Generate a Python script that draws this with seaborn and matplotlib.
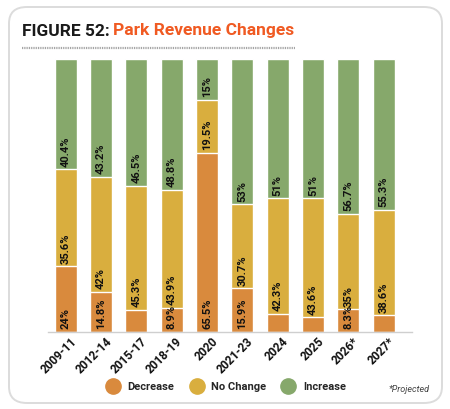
"""Park revenue changes, stacked percent bars"""

import matplotlib
matplotlib.use('Agg')
import matplotlib.pyplot as plt
import matplotlib.transforms as mtransforms
from matplotlib.lines import Line2D
from matplotlib.patches import FancyBboxPatch
import numpy as np
import seaborn as sns

periods = ['2009-11', '2012-14', '2015-17', '2018-19', '2020',
           '2021-23', '2024', '2025', '2026*', '2027*']
decrease = [24, 14.8, 8.2, 8.9, 65.5, 15.9, 6.7, 5.4, 8.3, 6.1]
no_change = [35.6, 42, 45.3, 43.9, 19.5, 30.7, 42.3, 43.6, 35, 38.6]
increase = [40.4, 43.2, 46.5, 48.8, 15, 53, 51, 51, 56.7, 55.3]
series = ['Decrease', 'No Change', 'Increase']
colors = ['#D98A3D', '#D9AE3E', '#86A86B']

W, H = 450, 409
sns.set_style('white')
plt.rcParams['font.family'] = ['Roboto', 'DejaVu Sans']
fig = plt.figure(figsize=(W / 100, H / 100), dpi=100)

# rounded card behind everything
card = FancyBboxPatch((9 / W, 6 / H), 433 / W, 396 / H,
                      boxstyle='round,pad=0,rounding_size=0.04',
                      transform=fig.transFigure, facecolor='white',
                      edgecolor='#DCDCDC', linewidth=1.4, zorder=-1)
fig.patches.append(card)

# title
t1 = fig.text(22 / W, 1 - 31 / H, 'FIGURE 52:', fontsize=12.5,
              fontweight='bold', color='#1A1A1A', va='center')
fig.canvas.draw()
bb = t1.get_window_extent()
fig.text(bb.x1 / W + 0.008, 1 - 31 / H, 'Park Revenue Changes',
         fontsize=12.5, fontweight='bold', color='#F05A22', va='center')
fig.add_artist(Line2D([22 / W, 295 / W], [1 - 48 / H, 1 - 48 / H],
                      transform=fig.transFigure, color='#9A9A9A',
                      linewidth=1.6, linestyle=(0, (0.4, 0.4))))

ax = fig.add_axes([48 / W, 77 / H, 364 / W, 273 / H])
ax.set_zorder(2)
dec = np.array(decrease)
noc = np.array(no_change)
inc = np.array(increase)
total = dec + noc + inc
d_h = dec / total * 100
n_h = noc / total * 100
i_h = inc / total * 100

layers = [d_h + n_h + i_h, d_h + n_h, d_h]
for heights, color in zip(layers, colors[::-1]):
    sns.barplot(x=periods, y=heights, color=color, width=0.62,
                saturation=1, ax=ax, zorder=2)

# segment labels at the base of each segment
bases = [np.zeros(len(periods)), d_h, d_h + n_h]
for values, base in zip([dec, noc, inc], bases):
    for i, (v, b) in enumerate(zip(values, base)):
        if v < 8.25:
            continue
        text = f'{v:g}%'
        ax.text(i, b + 1.0, text, rotation=90, ha='center', va='bottom',
                fontsize=8, fontweight='bold', color='#111111', zorder=3)

ax.set_ylim(0, 100)
ax.set_xlim(-0.5, 9.8)
ax.set_yticks([])
ax.set_xlabel('')
ax.set_ylabel('')
ax.tick_params(axis='x', length=0, pad=2)
shift = mtransforms.ScaledTranslation(3 / 72, 0, fig.dpi_scale_trans)
for lbl in ax.get_xticklabels():
    lbl.set_rotation(45)
    lbl.set_ha('right')
    lbl.set_rotation_mode('anchor')
    lbl.set_fontsize(8.5)
    lbl.set_fontweight('bold')
    lbl.set_color('#111111')
    lbl.set_transform(lbl.get_transform() + shift)
for side in ['top', 'left', 'right']:
    ax.spines[side].set_visible(False)
ax.spines['bottom'].set_color('#CFCFCF')
ax.spines['bottom'].set_linewidth(1)
ax.patch.set_alpha(0)

handles = [Line2D([], [], marker='o', linestyle='', markersize=11,
                  markerfacecolor=c, markeredgecolor=c) for c in colors]
leg = fig.legend(handles, series, loc='center', ncol=3,
                 bbox_to_anchor=(224 / W, 1 - 387 / H), frameon=False,
                 handletextpad=0.3, columnspacing=1.0,
                 prop={'size': 8, 'weight': 'bold'})
fig.text(430 / W, 1 - 389 / H, '*Projected', fontsize=6.5,
         style='italic', color='#444444', ha='right', va='center')

fig.savefig('out.png', dpi=100)
